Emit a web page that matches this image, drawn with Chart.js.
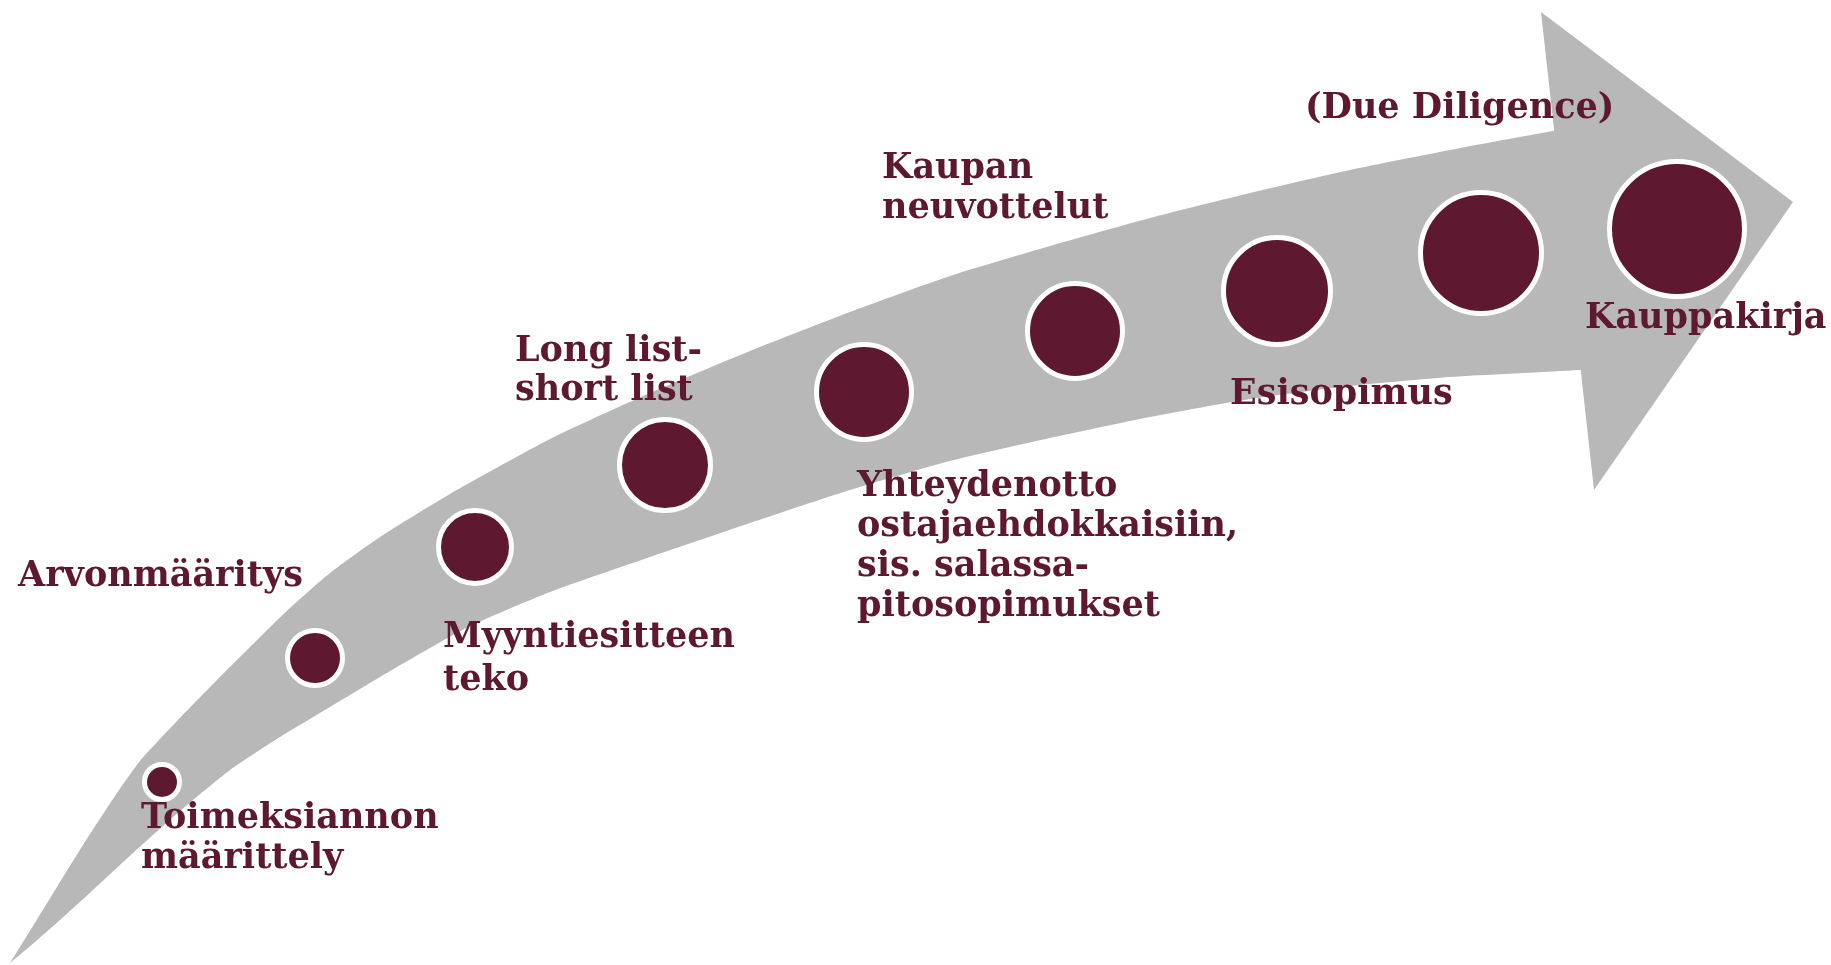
<!DOCTYPE html>
<html>
<head>
<meta charset="utf-8">
<title>Myyntiprosessi</title>
<script src="https://cdn.jsdelivr.net/npm/chart.js@4.4.1/dist/chart.umd.min.js"></script>
<style>
  html, body { margin: 0; padding: 0; background: #fff; overflow: hidden; }
  #wrap { width: 1831px; height: 965px; }
</style>
</head>
<body>
<div id="wrap"><canvas id="process-chart" width="1831" height="965"></canvas></div>
<script>
// ------------------------------------------------------------
// data (canvas-like units: x right, y down)
// ------------------------------------------------------------
// arrow body: tail -> upper edge -> (under the head) -> lower edge -> tail
const bodyX = [10, 33, 57, 83, 115, 140, 177, 217, 250, 290, 330, 380, 450, 550, 650, 750, 850, 950, 1050, 1150, 1250, 1350, 1450, 1553,
  1640, 1665, 1640, 1580,
  1450, 1350, 1250, 1150, 1050, 950, 850, 750, 650, 550, 470, 430, 380, 330, 280, 230, 180, 133, 93, 60, 35, 10];
const bodyY = [963, 926, 887, 845, 796, 761, 721, 680, 647, 608, 573, 537, 494, 439, 393, 351, 312, 276, 246, 218, 193, 170, 150, 131,
  118, 245, 365, 370,
  377, 386, 399, 417, 438, 461, 490, 523, 557, 592, 626, 648, 677, 707, 737, 770, 811, 853, 890, 920, 942, 963];

// arrow head (straight edges)
const headX = [1541, 1793, 1594];
const headY = [12, 202, 490];

// process steps (circles), radius = outer radius incl. white ring
const stepX = [162, 315, 475, 665, 864, 1075, 1277, 1481, 1677];
const stepY = [782, 658, 547, 465, 392, 331, 291, 253, 229];
const stepR = [20, 30, 39, 48, 50, 50, 56, 63, 70];

// labels: left x, baseline of first line
const labelText = [
  ['Toimeksiannon', 'määrittely'],
  ['Arvonmääritys'],
  ['Myyntiesitteen', 'teko'],
  ['Long list-', 'short list'],
  ['Kaupan', 'neuvottelut'],
  ['Yhteydenotto', 'ostajaehdokkaisiin,', 'sis. salassa-', 'pitosopimukset'],
  ['Esisopimus'],
  ['(Due Diligence)'],
  ['Kauppakirja'],
];
const labelX = [141, 18, 443, 515, 882, 857, 1230, 1305, 1585];
const labelY = [828, 586, 647, 361, 178, 496, 404, 118, 328];
const labelGap = [40, 40, 43, 39, 40, 40, 40, 40, 40];

const WINE = '#5e1830';
const GREY = '#b8b8b8';
const RING = 5;

// ------------------------------------------------------------
// label plugin
// ------------------------------------------------------------
const stepLabels = {
  id: 'stepLabels',
  afterDatasetsDraw(chart) {
    const { ctx, scales: { x, y } } = chart;
    ctx.save();
    ctx.fillStyle = WINE;
    ctx.font = 'bold 35px "DejaVu Serif", "Liberation Serif", serif';
    ctx.textAlign = 'left';
    ctx.textBaseline = 'alphabetic';
    labelText.forEach((lines, i) => {
      const px = x.getPixelForValue(labelX[i]);
      lines.forEach((line, j) => {
        const py = y.getPixelForValue(labelY[i] + j * labelGap[i]);
        ctx.fillText(line, px, py);
      });
    });
    ctx.restore();
  }
};

const shape = (xs, ys) => xs.map((v, i) => ({ x: v, y: ys[i] }));

new Chart(document.getElementById('process-chart'), {
  type: 'bubble',
  data: {
    datasets: [
      {
        label: 'steps',
        order: 1,
        data: stepX.map((v, i) => ({ x: v, y: stepY[i], r: stepR[i] - RING / 2 })),
        backgroundColor: WINE,
        borderColor: '#ffffff',
        borderWidth: RING,
        hoverBorderWidth: RING,
        clip: false,
      },
      {
        type: 'line',
        label: 'head',
        order: 2,
        data: shape(headX, headY),
        backgroundColor: GREY,
        borderColor: GREY,
        borderWidth: 0,
        pointRadius: 0,
        pointHoverRadius: 0,
        tension: 0,
        fill: 'shape',
        clip: false,
      },
      {
        type: 'line',
        label: 'body',
        order: 3,
        data: shape(bodyX, bodyY),
        backgroundColor: GREY,
        borderColor: GREY,
        borderWidth: 0,
        pointRadius: 0,
        pointHoverRadius: 0,
        tension: 0.2,
        fill: 'shape',
        clip: false,
      }
    ]
  },
  options: {
    responsive: false,
    animation: false,
    events: [],
    layout: { padding: 0, autoPadding: false },
    plugins: { legend: { display: false }, tooltip: { enabled: false } },
    scales: {
      x: { type: 'linear', min: 0, max: 1831, display: false },
      y: { type: 'linear', min: 0, max: 965, reverse: true, display: false }
    }
  },
  plugins: [stepLabels]
});
</script>
</body>
</html>
